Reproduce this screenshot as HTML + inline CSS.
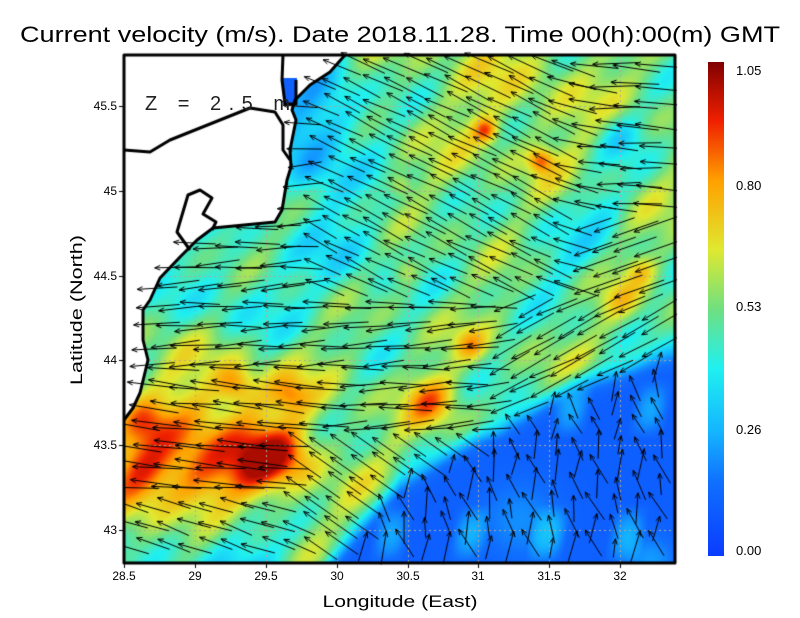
<!DOCTYPE html>
<html><head><meta charset="utf-8"><style>
body{margin:0;background:#fff;width:800px;height:618px;overflow:hidden;position:relative;font-family:"Liberation Sans",sans-serif}
#c{position:absolute;left:0;top:0}
svg{position:absolute;left:0;top:0}
</style></head><body>
<canvas id="c" width="800" height="618"></canvas>
<svg width="800" height="618" font-family="Liberation Sans, sans-serif">
<defs><linearGradient id="cb" x1="0" y1="1" x2="0" y2="0">
<stop offset="0" stop-color="#0a3cff"/><stop offset="0.15" stop-color="#1070ff"/><stop offset="0.25" stop-color="#14b4ff"/>
<stop offset="0.38" stop-color="#20f0f0"/><stop offset="0.5" stop-color="#70e080"/><stop offset="0.62" stop-color="#e0e830"/>
<stop offset="0.76" stop-color="#ffa000"/><stop offset="0.88" stop-color="#f02000"/><stop offset="1" stop-color="#800000"/></linearGradient></defs>
<text x="20" y="42" font-size="22" textLength="760" lengthAdjust="spacingAndGlyphs">Current velocity (m/s). Date 2018.11.28. Time 00(h):00(m) GMT</text>
<text x="145" y="110" font-size="20" textLength="145" lengthAdjust="spacing" fill="#222">Z = 2.5 m</text>
<rect x="708" y="62" width="16" height="494" fill="url(#cb)"/>
<g font-size="13" fill="#000">
<text x="736" y="75">1.05</text><text x="736" y="190">0.80</text><text x="736" y="311">0.53</text><text x="736" y="434">0.26</text><text x="736" y="555">0.00</text>
</g>
<g font-size="12" text-anchor="end">
<text x="117" y="110">45.5</text><text x="117" y="195">45</text><text x="117" y="280">44.5</text><text x="117" y="364">44</text><text x="117" y="449">43.5</text><text x="117" y="534">43</text>
</g>
<g font-size="12" text-anchor="middle">
<text x="124" y="580">28.5</text><text x="195" y="580">29</text><text x="266" y="580">29.5</text><text x="337" y="580">30</text><text x="408" y="580">30.5</text><text x="478" y="580">31</text><text x="549" y="580">31.5</text><text x="620" y="580">32</text>
</g>
<text x="400" y="607" font-size="17" text-anchor="middle" textLength="155" lengthAdjust="spacingAndGlyphs">Longitude (East)</text>
<text transform="translate(82,310) rotate(-90)" font-size="17" text-anchor="middle" textLength="150" lengthAdjust="spacingAndGlyphs">Latitude (North)</text>
</svg>
<script>
const c=document.getElementById('c'),g=c.getContext('2d');
const L=124,T=55,R=675,B=563;
const land=[[124,55],[345,55],[330,72],[310,85],[295,100],[292,110],[296,120],[290,150],[291,167],[287,180],[282,210],[275,222],[213,228],[197,240],[180,257],[160,278],[150,300],[143,310],[143,340],[148,360],[140,393],[133,408],[124,420]];
function lerp(a,b,t){return a+(b-a)*t}
function yb(x){const p=[[300,600],[330,560],[400,480],[480,435],[570,385],[675,350]];for(let i=0;i<p.length-1;i++){if(x<=p[i+1][0]){const t=(x-p[i][0])/(p[i+1][0]-p[i][0]);return lerp(p[i][1],p[i+1][1],Math.max(0,t));}}return 350}
function gs(x,y,cx,cy,r){const d=((x-cx)*(x-cx)+(y-cy)*(y-cy))/(r*r);return Math.exp(-d)}
function V(x,y){
 let v=0.53+0.06*Math.sin(x*0.05+y*0.03)+0.05*Math.sin(y*0.07-x*0.02)+0.05*Math.sin(x*0.11+y*0.09);
 v+=0.08*gs(x,y,520,90,90);
 v-=0.12*gs(x,y,350,250,70)+0.12*gs(x,y,230,300,60)+0.1*gs(x,y,560,250,50)+0.15*gs(x,y,620,135,25)+0.12*gs(x,y,590,440,30)+0.1*gs(x,y,600,200,25);
 v-=0.3*gs(x,y,320,110,45)+0.2*gs(x,y,305,170,35);
 v+=0.28*gs(x,y,220,450,85);
 v+=0.25*gs(x,y,140,470,35)+0.22*gs(x,y,260,460,30)+0.15*gs(x,y,200,480,35)+0.15*gs(x,y,290,455,25)+0.15*gs(x,y,145,420,20);
 v-=0.25*gs(x,y,230,550,55);
 v+=0.22*gs(x,y,235,385,18)+0.18*gs(x,y,290,395,18)+0.25*gs(x,y,430,400,25)+0.18*gs(x,y,470,345,15)+0.18*gs(x,y,405,270,15)+0.3*gs(x,y,485,130,12)+0.3*gs(x,y,540,160,12)+0.15*gs(x,y,400,185,12)+0.12*gs(x,y,620,300,20)+0.15*gs(x,y,640,270,15);
 const d=y-yb(x);const t=1/(1+Math.exp(-d/6));
 let blue=0.1+0.14*Math.max(0,Math.sin(x*0.08+y*0.015))*Math.max(0,Math.sin(y*0.05))+0.1*gs(x,y,520,520,40)+0.12*gs(x,y,650,560,25);
 v=v*(1-t)+blue*t;
 return Math.max(0,Math.min(1.0,v));
}
const stops=[[0,[10,60,255]],[0.15,[16,112,255]],[0.26,[20,180,255]],[0.4,[32,240,240]],[0.53,[112,224,128]],[0.65,[224,232,48]],[0.8,[255,160,0]],[0.92,[240,32,0]],[1.05,[128,0,0]]];
function col(v){for(let i=0;i<stops.length-1;i++){if(v<=stops[i+1][0]){const t=(v-stops[i][0])/(stops[i+1][0]-stops[i][0]);return stops[i][1].map((a,k)=>a+(stops[i+1][1][k]-a)*t);}}return stops[stops.length-1][1]}
const img=g.createImageData(R-L,B-T);
for(let y=T;y<B;y++)for(let x=L;x<R;x++){const cc=col(V(x,y));const i=((y-T)*(R-L)+(x-L))*4;img.data[i]=cc[0];img.data[i+1]=cc[1];img.data[i+2]=cc[2];img.data[i+3]=255;}
g.putImageData(img,L,T);
g.strokeStyle='#b0a898';g.lineWidth=1;g.setLineDash([2,3]);
[195,266,337,408,478,549,620].forEach(x=>{g.beginPath();g.moveTo(x+.5,T);g.lineTo(x+.5,B);g.stroke();});
[106,191,276,360,445,530].forEach(y=>{g.beginPath();g.moveTo(L,y+.5);g.lineTo(R,y+.5);g.stroke();});
g.setLineDash([]);
const lp=new Path2D();lp.moveTo(land[0][0],land[0][1]);land.forEach(p=>lp.lineTo(p[0],p[1]));lp.closePath();
g.fillStyle='#fff';g.fill(lp);
g.fillStyle='#1060ff';g.fillRect(283,78,14,26);
g.strokeStyle='#000';g.lineWidth=1;
for(let y=66;y<B-4;y+=20)for(let x=134;x<R-4;x+=21){
 const xx=x+3*Math.sin(y*0.9+x*0.3), yy=y+3*Math.sin(x*0.7+y*0.2);
 if(g.isPointInPath(lp,xx,yy))continue;
 const v=V(xx,yy);let dx=-1,dy=0,len;
 const n=Math.sin(xx*0.9+yy*1.7);
 const inb=yy>yb(xx)+6;
 if(inb){dx=-0.2+0.5*Math.sin(xx*0.3+yy*0.7);dy=-1;len=18+16*Math.abs(Math.sin(xx*1.3+yy*0.4));}
 else{
  len=25+40*v;
  if(yy<300&&xx>310){let w=xx<550?1:Math.max(0,1-(xx-550)/50);dy=-0.45*w-0.05+0.1*n; if(xx>580&&yy>220)dy=0.35;}
  else if(xx>500&&yy>290){dy=0.5+0.1*n;}
  else if(xx>300&&xx<480&&yy>430){dy=-0.7;len=40;}
  else if(xx<330&&yy>500){dy=-0.35+0.1*n;len=35;}
  else if(xx<330&&yy>380){dy=-0.1+0.08*n;len=50;}
  else{dy=0.05+0.12*n;}
 }
 const m=Math.hypot(dx,dy);dx/=m;dy/=m;
 const x0=xx-dx*len/2,y0=yy-dy*len/2,x1=xx+dx*len/2,y1=yy+dy*len/2;
 g.beginPath();g.moveTo(x0,y0);g.lineTo(x1,y1);
 const a=Math.atan2(dy,dx);
 g.moveTo(x1-6*Math.cos(a-0.4),y1-6*Math.sin(a-0.4));g.lineTo(x1,y1);g.lineTo(x1-6*Math.cos(a+0.4),y1-6*Math.sin(a+0.4));g.stroke();
}
g.fillStyle='#fff';g.fillRect(0,0,L,618);
g.strokeStyle='#000';g.lineWidth=3;g.lineJoin='round';
g.beginPath();for(let i=1;i<land.length;i++){if(i==1)g.moveTo(land[1][0],land[1][1]);else g.lineTo(land[i][0],land[i][1]);}g.stroke();
g.beginPath();g.moveTo(124,150);g.lineTo(150,152);g.lineTo(170,140);g.lineTo(200,128);g.lineTo(230,116);g.lineTo(250,108);g.lineTo(275,112);g.lineTo(283,125);g.lineTo(283,150);g.lineTo(290,160);g.stroke();
g.beginPath();g.moveTo(283,55);g.lineTo(282,80);g.lineTo(285,104);g.lineTo(296,104);g.lineTo(296,80);g.stroke();
g.beginPath();g.moveTo(190,250);g.lineTo(177,232);g.lineTo(188,195);g.lineTo(200,190);g.lineTo(212,198);g.lineTo(203,214);g.lineTo(216,222);g.lineTo(212,230);g.stroke();
g.fillStyle='#fff';g.fillRect(L+2,B+2,R-L,60);g.fillRect(R+2,T,100,B-T+10);
g.lineWidth=3;g.strokeRect(L,T,R-L,B-T);
g.lineWidth=1;
[124,195,266,337,408,478,549,620].forEach(x=>{g.beginPath();g.moveTo(x+.5,B);g.lineTo(x+.5,B+5);g.stroke();});
[106,191,276,360,445,530].forEach(y=>{g.beginPath();g.moveTo(L-5,y+.5);g.lineTo(L,y+.5);g.stroke();});
</script>
</body></html>
